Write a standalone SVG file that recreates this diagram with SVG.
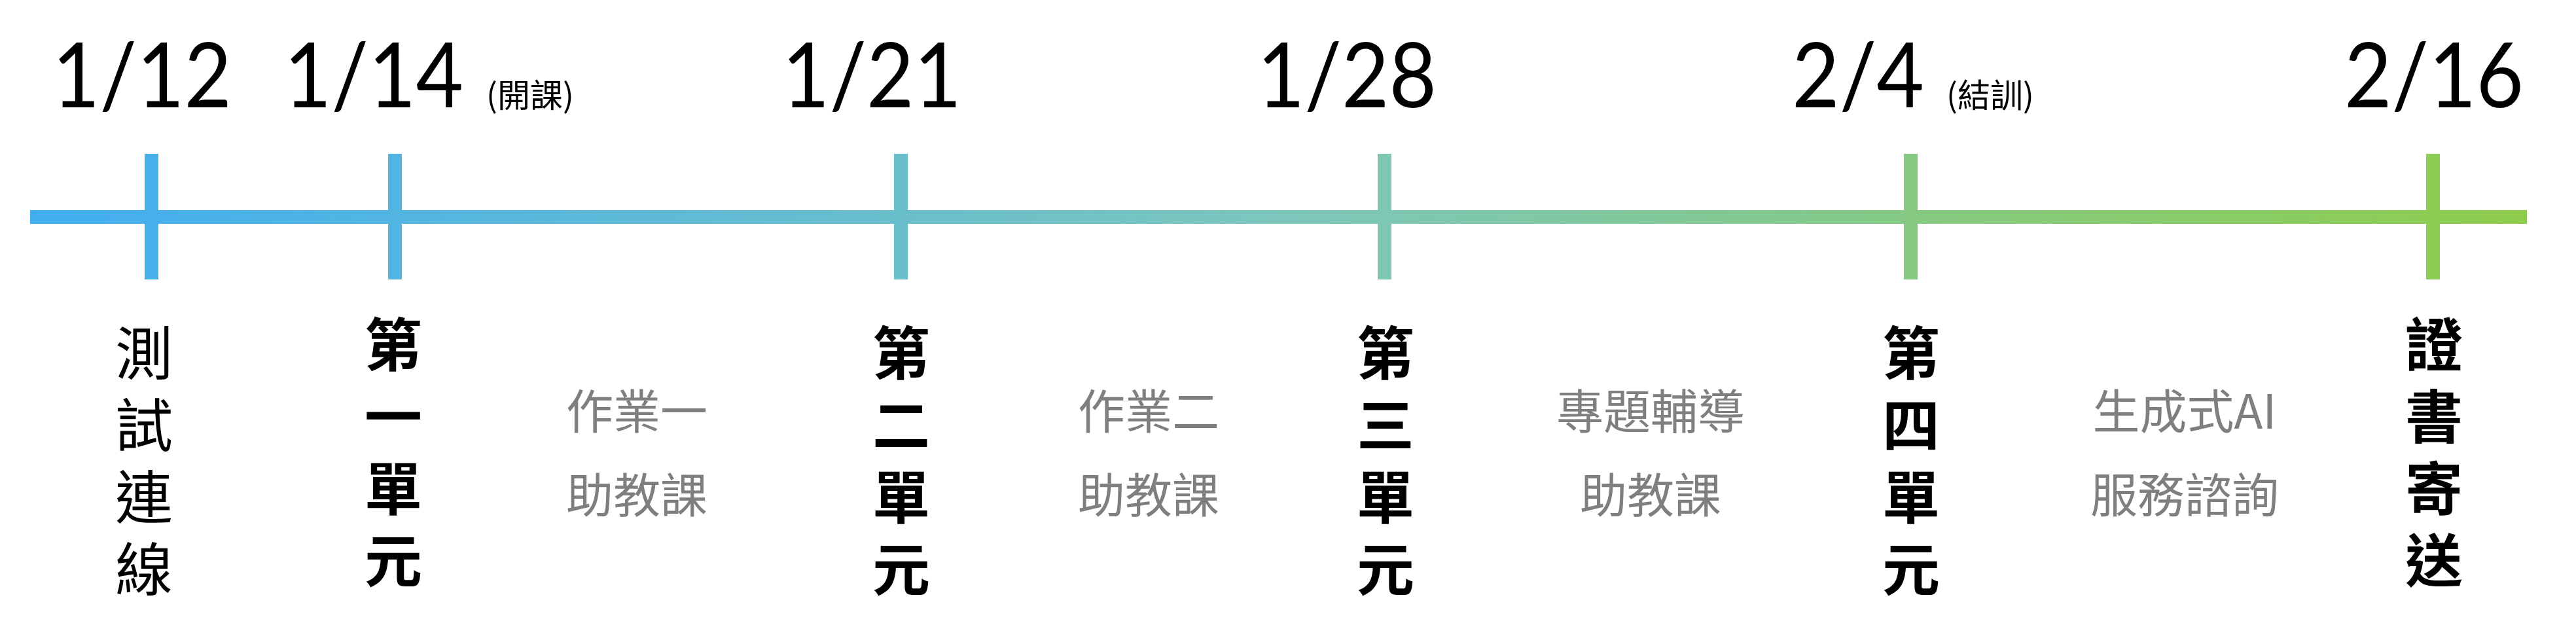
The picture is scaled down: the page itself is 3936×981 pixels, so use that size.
<svg xmlns="http://www.w3.org/2000/svg" width="3936" height="981" viewBox="0 0 3936 981">
<defs>
<linearGradient id="tl" gradientUnits="userSpaceOnUse" x1="46" y1="0" x2="3861" y2="0">
<stop offset="0" stop-color="#41aef0"/>
<stop offset="0.5" stop-color="#7cc6bc"/>
<stop offset="1" stop-color="#8ecd4c"/>
</linearGradient>
<style>
.date{font-family:Lato,"Liberation Sans",sans-serif;font-size:138px;fill:#000;text-anchor:middle}
.note{font-family:"Noto Sans CJK TC","Noto Sans",sans-serif;font-size:50px;fill:#000}
.vert{font-family:"Noto Sans CJK TC",sans-serif;font-size:88px;fill:#000;text-anchor:middle}
.b{font-weight:bold}
.gray{font-family:"Noto Sans CJK TC",sans-serif;font-size:72px;fill:#7f7f7f;text-anchor:middle}
.tick{fill:url(#tl)}
</style>
</defs>
<rect width="3936" height="981" fill="#fff"/>
<g id="timeline">
<rect x="46" y="321" width="3815" height="21" fill="url(#tl)"/>
<rect class="tick" x="221" y="235" width="21" height="192"/>
<rect class="tick" x="593" y="235" width="21" height="192"/>
<rect class="tick" x="1366" y="235" width="21" height="192"/>
<rect class="tick" x="2105" y="235" width="21" height="192"/>
<rect class="tick" x="2909" y="235" width="21" height="192"/>
<rect class="tick" x="3707" y="235" width="21" height="192"/>
</g>
<g id="d0112"><text class="date" x="217" y="164" textLength="274" lengthAdjust="spacingAndGlyphs">1/12</text></g>
<g id="d0114"><text class="date" x="571" y="164" textLength="274" lengthAdjust="spacingAndGlyphs">1/14</text><text class="note" x="743" y="164">(開課)</text></g>
<g id="d0121"><text class="date" x="1332" y="164" textLength="274" lengthAdjust="spacingAndGlyphs">1/21</text></g>
<g id="d0128"><text class="date" x="2058" y="164" textLength="274" lengthAdjust="spacingAndGlyphs">1/28</text></g>
<g id="d0204"><text class="date" x="2839" y="164" textLength="202" lengthAdjust="spacingAndGlyphs">2/4</text><text class="note" x="2974" y="164">(結訓)</text></g>
<g id="d0216"><text class="date" x="3719" y="164" textLength="274" lengthAdjust="spacingAndGlyphs">2/16</text></g>
<g id="n-test"><text class="vert"><tspan x="220" y="572">測</tspan><tspan x="220" y="682">試</tspan><tspan x="220" y="792">連</tspan><tspan x="220" y="902">線</tspan></text></g>
<g id="n-unit1"><text class="vert b"><tspan x="601" y="559">第</tspan><tspan x="601" y="669">一</tspan><tspan x="601" y="779">單</tspan><tspan x="601" y="889">元</tspan></text></g>
<g id="n-hw1"><text class="gray"><tspan x="973" y="655">作業一</tspan><tspan x="973" y="783">助教課</tspan></text></g>
<g id="n-unit2"><text class="vert b"><tspan x="1377" y="572">第</tspan><tspan x="1377" y="682">二</tspan><tspan x="1377" y="792">單</tspan><tspan x="1377" y="902">元</tspan></text></g>
<g id="n-hw2"><text class="gray"><tspan x="1755" y="655">作業二</tspan><tspan x="1755" y="783">助教課</tspan></text></g>
<g id="n-unit3"><text class="vert b"><tspan x="2117" y="572">第</tspan><tspan x="2117" y="682">三</tspan><tspan x="2117" y="792">單</tspan><tspan x="2117" y="902">元</tspan></text></g>
<g id="n-proj"><text class="gray"><tspan x="2522" y="655">專題輔導</tspan><tspan x="2522" y="783">助教課</tspan></text></g>
<g id="n-unit4"><text class="vert b"><tspan x="2920" y="572">第</tspan><tspan x="2920" y="682">四</tspan><tspan x="2920" y="792">單</tspan><tspan x="2920" y="902">元</tspan></text></g>
<g id="n-ai"><text class="gray"><tspan x="3338" y="655">生成式AI</tspan><tspan x="3338" y="783">服務諮詢</tspan></text></g>
<g id="n-cert"><text class="vert b"><tspan x="3719" y="559">證</tspan><tspan x="3719" y="669">書</tspan><tspan x="3719" y="779">寄</tspan><tspan x="3719" y="889">送</tspan></text></g>
</svg>
